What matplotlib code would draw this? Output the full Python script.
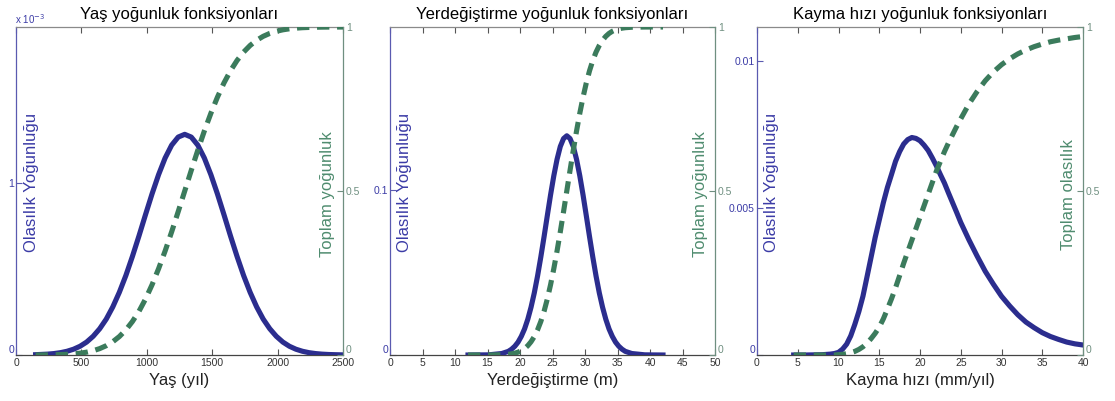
import matplotlib
matplotlib.use("Agg")
import matplotlib.pyplot as plt

plt.rcParams['font.family'] = ['Liberation Sans', 'DejaVu Sans']

# --- Yaş (age) distribution: density in units of 1e-3 per year, cumulative 0..1
age_x = [150, 240, 290, 340, 390, 440, 490, 540, 590, 640,
         690, 740, 790, 840, 890, 940, 990, 1040, 1090, 1140,
         1190, 1240, 1290, 1340, 1390, 1440, 1490, 1540, 1590, 1640,
         1690, 1740, 1790, 1840, 1890, 1940, 1990, 2040, 2090, 2140,
         2190, 2240, 2290, 2340, 2390, 2440, 2500]
age_pdf = [0.0018, 0.0050, 0.0083, 0.0136, 0.0217, 0.0337, 0.051, 0.0754,
           0.109, 0.153,
           0.209, 0.280, 0.365, 0.463, 0.574, 0.693, 0.817, 0.938, 1.050,
           1.147,
           1.222, 1.269, 1.285, 1.269, 1.222, 1.147, 1.050, 0.938, 0.817,
           0.693,
           0.574, 0.463, 0.365, 0.280, 0.209, 0.153, 0.109, 0.0754, 0.051,
           0.0337,
           0.0217, 0.0136, 0.0083, 0.0050, 0.0029, 0.0018, 0.0008]
age_cdf = [0.0001, 0.0004, 0.0008, 0.0013, 0.0021, 0.0035, 0.0055, 0.0086,
           0.0131, 0.0195,
           0.0284, 0.0404, 0.0562, 0.0765, 0.102, 0.133, 0.1705, 0.214,
           0.263, 0.317,
           0.3755, 0.437, 0.500, 0.563, 0.6245, 0.683, 0.737, 0.786, 0.8295,
           0.8667,
           0.898, 0.9235, 0.9438, 0.9596, 0.9716, 0.9805, 0.9869, 0.9914,
           0.9945, 0.9965,
           0.9979, 0.9987, 0.99925, 0.99957, 0.99976, 0.99985, 0.99994]

# --- Yerdeğiştirme (displacement, m)
disp_x = [12, 15.2, 17.2, 18.2, 18.7, 19.2, 19.7, 20.2, 20.7, 21.2, 21.7,
          22.2, 22.7, 23.2, 23.7, 24.2, 24.7, 25.2, 25.7, 26.2, 26.7, 27.2,
          27.7, 28.2, 28.7, 29.2, 29.7, 30.2, 30.7, 31.2, 31.7, 32.2, 32.7,
          33.2, 33.7, 34.2, 34.7, 35.2, 35.7, 36.2, 37.2, 39.2, 42]
disp_pdf = [0.0000, 0.0001, 0.0009, 0.0022, 0.0035, 0.0053, 0.0078, 0.0113,
            0.0158, 0.0217, 0.0290, 0.0377, 0.0479, 0.0594, 0.0717, 0.0845,
            0.0971, 0.1087, 0.1187, 0.1265, 0.1313, 0.1330, 0.1313, 0.1265,
            0.1187, 0.1087, 0.0971, 0.0845, 0.0717, 0.0594, 0.0479, 0.0377,
            0.0290, 0.0217, 0.0158, 0.0113, 0.0078, 0.0053, 0.0035, 0.0022,
            0.0009, 0.0001, 0.0000]
disp_cdf = [0.0000, 0.0001, 0.0008, 0.0021, 0.0035, 0.0055, 0.0086, 0.0131,
            0.0195, 0.0284, 0.0404, 0.0562, 0.0765, 0.102, 0.133, 0.1705,
            0.214, 0.263, 0.317, 0.3755, 0.437, 0.500, 0.563, 0.6245, 0.683,
            0.737, 0.786, 0.8295, 0.8667, 0.898, 0.9235, 0.9438, 0.9596,
            0.9716, 0.9805, 0.9869, 0.9914, 0.9945, 0.9965, 0.9979, 0.99925,
            0.99993, 1.0000]

# --- Kayma hızı (slip rate, mm/yıl)
slip_x = [4.5, 6, 8, 9, 9.5, 10, 10.5, 11, 11.5, 12,
          12.5, 13, 13.5, 14, 14.5, 15, 15.5, 16, 16.5, 17,
          17.5, 18, 18.5, 19, 19.5, 20, 20.5, 21, 21.5, 22,
          22.5, 23, 23.5, 24, 24.5, 25,
          26, 27, 28, 29, 30, 31, 32, 33, 34, 35, 36, 37, 38, 39, 40]
slip_pdf = [0.0, 0.0, 0.00001, 0.00003, 0.00005, 0.00009, 0.0002, 0.00037,
            0.00065, 0.00104,
            0.00148, 0.00200, 0.00266, 0.00333, 0.00400, 0.00459, 0.00518,
            0.00570, 0.00614, 0.00659,
            0.00692, 0.00718, 0.00733, 0.00740, 0.00737, 0.00729, 0.00714,
            0.00696, 0.00671, 0.00644,
            0.00614, 0.00585, 0.00551, 0.00518, 0.00485, 0.00451,
            0.00392, 0.00337, 0.00285, 0.00241, 0.00200, 0.00167, 0.00137,
            0.00112, 0.00093, 0.00076, 0.00063, 0.00053, 0.00044, 0.00038,
            0.00034]
slip_cdf = [0.0, 0.0, 0.0, 0.0, 0.0, 0.001, 0.002, 0.004, 0.007, 0.011,
            0.017, 0.025, 0.036, 0.05, 0.066, 0.085, 0.11, 0.14, 0.171, 0.205,
            0.242, 0.28, 0.315, 0.35, 0.385, 0.42, 0.455, 0.49, 0.525, 0.56,
            0.59, 0.62, 0.647, 0.672, 0.697, 0.72,
            0.765, 0.803, 0.836, 0.863, 0.885, 0.903, 0.918, 0.93, 0.94,
            0.948, 0.955, 0.96, 0.964, 0.968, 0.971]

BLUE = '#2B2D8E'
GREEN = '#3B7B5C'
BLUE_TXT = '#3B3BA6'
GREEN_TXT = '#4F8C6F'
BLUE_AX = '#5A5AB0'
GREEN_AX = '#6F8F80'

W, H = 1115, 401
fig = plt.figure(figsize=(W / 100, H / 100), dpi=100)


def panel(left_px, width_px, x, pdf, cdf, xlim, xticks, ytop, yticks,
          yticklabels, title, xlabel, right_label):
    ax = fig.add_axes([left_px / W, (H - 355) / H, width_px / W, 328 / H])
    ax2 = ax.twinx()

    ax.plot(x, pdf, color=BLUE, lw=3.7, solid_joinstyle='round', zorder=3)
    ax2.plot(x, cdf, color=GREEN, lw=3.7, dashes=(2.4, 1.5), zorder=3)

    ax.set_xlim(*xlim)
    ax.set_ylim(0, ytop)
    ax2.set_ylim(0, 1)
    ax.set_xticks(xticks)
    ax.set_xticklabels([str(t) for t in xticks])
    ax.set_yticks(yticks)
    ax.set_yticklabels(yticklabels)
    ax2.set_yticks([0, 0.5, 1])
    ax2.set_yticklabels(['0', '0.5', '1'])

    ax.spines['right'].set_visible(False)
    for s in ('left', 'top', 'bottom'):
        ax2.spines[s].set_visible(False)
    ax.spines['left'].set_color(BLUE_AX)
    ax.spines['bottom'].set_color('#444444')
    ax.spines['top'].set_color('#8a8a8a')
    ax2.spines['right'].set_color(GREEN_AX)
    for sp in (ax.spines['left'], ax.spines['bottom'], ax.spines['top'],
               ax2.spines['right']):
        sp.set_linewidth(0.9)

    ax.tick_params(axis='x', direction='in', top=True, length=4, width=0.8,
                   color='#555555', labelcolor='#333333', labelsize=7.5,
                   pad=2.5)
    ax.tick_params(axis='y', direction='in', length=4, width=0.8,
                   color=BLUE_AX, labelcolor=BLUE_TXT, labelsize=7.5, pad=1.5)
    ax2.tick_params(axis='y', direction='in', length=4, width=0.8,
                    color=GREEN_AX, labelcolor=GREEN_AX, labelsize=7.5,
                    pad=2)

    # zero labels on the vertical axes sit just above the bottom corner
    ax.yaxis.get_major_ticks()[0].label1.set_verticalalignment('bottom')
    ax2.yaxis.get_major_ticks()[0].label2.set_verticalalignment('bottom')

    ax.set_title(title, fontsize=12, pad=6)
    ax.set_xlabel(xlabel, fontsize=12, color='#222222', labelpad=3)
    ax.text(0.046, 0.527, 'Olasılık Yoğunluğu', rotation=90,
            transform=ax.transAxes, ha='center', va='center',
            color=BLUE_TXT, fontsize=12)
    ax2.text(0.954, 0.49, right_label, rotation=90, transform=ax2.transAxes,
             ha='center', va='center', color=GREEN_TXT, fontsize=12)
    return ax


ax1 = panel(16, 327, age_x, age_pdf, age_cdf, (0, 2500),
            [0, 500, 1000, 1500, 2000, 2500], 1.91, [0, 1], ['0', '1'],
            'Yaş yoğunluk fonksiyonları', 'Yaş (yıl)', 'Toplam yoğunluk')
fig.text(15 / W, 1 - 19 / H, 'x 10$^{-3}$', ha='left', va='center',
         fontsize=7, color=BLUE_TXT)

ax2_ = panel(390, 325, disp_x, disp_pdf, disp_cdf, (0, 50),
             list(range(0, 51, 5)), 0.199, [0, 0.1], ['0', '0.1'],
             'Yerdeğiştirme yoğunluk fonksiyonları', 'Yerdeğiştirme (m)',
             'Toplam yoğunluk')

ax3 = panel(757, 326, slip_x, slip_pdf, slip_cdf, (0, 40),
            list(range(0, 41, 5)), 0.01116, [0, 0.005, 0.01],
            ['0', '0.005', '0.01'],
            'Kayma hızı yoğunluk fonksiyonları', 'Kayma hızı (mm/yıl)',
            'Toplam olasılık')

fig.savefig('out.png', dpi=100, facecolor='white')
